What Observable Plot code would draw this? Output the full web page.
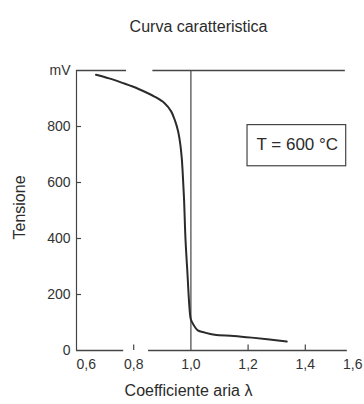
<!DOCTYPE html>
<html><head><meta charset="utf-8">
<script src="https://cdn.jsdelivr.net/npm/d3@7"></script>
<script src="https://cdn.jsdelivr.net/npm/@observablehq/plot@0.6"></script>
<style>
body{margin:0;background:#fff}
svg{font-family:"Liberation Sans",Arial,sans-serif}
</style>
</head><body><div id="chart"></div>
<script>
// Characteristic curve (lambda sensor)
const lambda  = [0.668,0.714,0.760,0.817,0.874,0.908,0.931,0.945,0.955,0.963,0.968,0.971,0.976,0.981,0.987,0.999,1.003,1.024,1.048,1.083,1.150,1.213,1.335];
const tension = [985,  972,  956,  934,  906,  883,  854,  819,  784,  736,  688,  641,  541,  399,  292,  114,  103,   72,   64,   56,   52,   46,   32];

// axis tick labels
const xTicks = [0.6, 0.8, 1.0, 1.2, 1.4, 1.6];
const yTicks = [0, 200, 400, 600, 800, 1000];
const yTickText = ["0", "200", "400", "600", "800", "mV"];
const xTickMarks = [0.8, 1.2, 1.4];
const yTickMarks = [200, 400, 600, 800];

// frame segments (as drawn, with gaps)
const topSegStart = [0.6, 0.867];
const topSegEnd   = [0.775, 1.54];
const botSegStart = [0.6, 0.852];
const botSegEnd   = [0.765, 1.547];
const stoichLambda = [1.0];

// annotation box
const boxLambda = [1.198, 1.543];
const boxMv = [658, 805];
const boxText = ["T = 600 °C"];
const boxTextLambda = [1.372];
const boxTextMv = [734];

const titleText = "Curva caratteristica";
const xLabel = "Coefficiente aria λ";
const yLabel = "Tensione";

const curve = lambda.map((l, i) => ({l, v: tension[i]}));
const topSegs = topSegStart.map((s, i) => ({s, e: topSegEnd[i]}));
const botSegs = botSegStart.map((s, i) => ({s, e: botSegEnd[i]}));

const ink = "#2b2b2b";
const lineInk = "#454545";
const fmtX = d => d.toFixed(1).replace(".", ",");
const tickTextOpts = {y: 0, dy: 14, fontSize: 14, fill: "#333", lineAnchor: "middle", text: fmtX, style: "letter-spacing:1.2px"};

const chart = Plot.plot({
  width: 364,
  height: 404,
  marginLeft: 76,
  marginRight: 2,
  marginTop: 70,
  marginBottom: 54,
  style: {background: "#fff", overflow: "visible"},
  x: {domain: [0.6, 1.6], axis: null},
  y: {domain: [0, 1000], axis: null},
  marks: [
    // y axis line
    Plot.ruleX([0.6], {y1: 0, y2: 1000, stroke: lineInk, strokeWidth: 1.2}),
    // top & bottom frame segments
    Plot.ruleY(topSegs, {y: 1000, x1: "s", x2: "e", stroke: lineInk, strokeWidth: 1.3}),
    Plot.ruleY(botSegs, {y: 0, x1: "s", x2: "e", stroke: lineInk, strokeWidth: 1.3}),
    // stoichiometric vertical line
    Plot.ruleX(stoichLambda, {y1: 0, y2: 1000, stroke: lineInk, strokeWidth: 1.2}),
    // inner tick marks
    Plot.ruleX(xTickMarks, {y1: 0, y2: 20, stroke: lineInk, strokeWidth: 1.2}),
    Plot.ruleY(yTickMarks, {x1: 0.6, x2: 0.6175, stroke: lineInk, strokeWidth: 1.2}),
    // x tick labels
    Plot.text(xTicks.slice(0, 1), {x: d => d, textAnchor: "start", ...tickTextOpts}),
    Plot.text(xTicks.slice(1, 5), {x: d => d, textAnchor: "middle", ...tickTextOpts}),
    Plot.text(xTicks.slice(5), {x: d => d, textAnchor: "end", ...tickTextOpts}),
    // y tick labels
    Plot.text(yTicks, {x: 0.6, y: d => d, text: (d, i) => yTickText[i], textAnchor: "end", dx: -6, fontSize: 14, fill: "#333", lineAnchor: "middle", style: "letter-spacing:0.8px"}),
    // curve
    Plot.line(curve, {x: "l", y: "v", curve: "catmull-rom", stroke: ink, strokeWidth: 2}),
    // annotation box
    Plot.rect([0], {x1: boxLambda[0], x2: boxLambda[1], y1: boxMv[0], y2: boxMv[1], fill: "none", stroke: lineInk, strokeWidth: 1.2}),
    Plot.text(boxText, {x: boxTextLambda, y: boxTextMv, text: d => d, fontSize: 17, fill: ink, lineAnchor: "middle"}),
    // title and axis labels
    Plot.text([titleText], {frameAnchor: "top", dx: -21, dy: -44, fontSize: 16, fill: ink, lineAnchor: "middle", style: "letter-spacing:0.4px"}),
    Plot.text([xLabel], {frameAnchor: "bottom", dx: -31, dy: 40, fontSize: 16, fill: ink, lineAnchor: "middle", style: "letter-spacing:1px"}),
    Plot.text([yLabel], {frameAnchor: "left", textAnchor: "middle", dx: -57, dy: -3, rotate: -90, fontSize: 16, fill: ink, lineAnchor: "middle", style: "letter-spacing:1px"})
  ]
});
document.getElementById("chart").append(chart);
</script>
</body></html>
